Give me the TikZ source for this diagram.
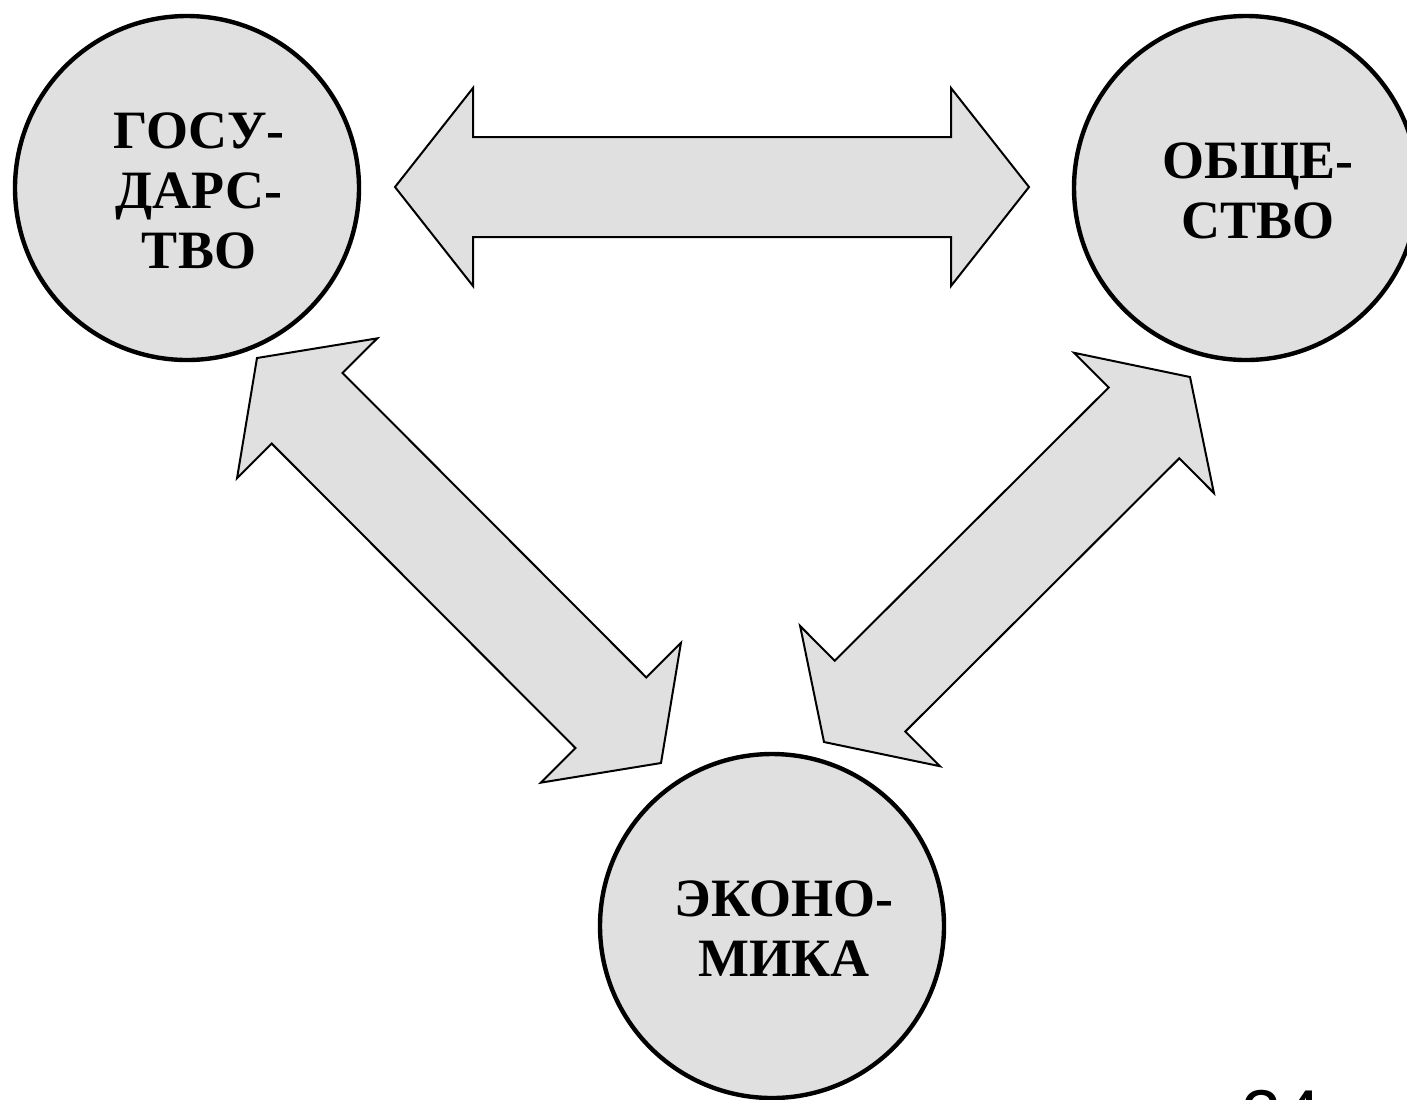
\documentclass[tikz,border=0pt]{standalone}
\usepackage{fontspec}
\setmainfont{Liberation Serif}
\newfontfamily\numfont{Liberation Sans}
\usepackage{tikz}
\usetikzlibrary{calc}

\definecolor{shade}{HTML}{E0E0E0}

\tikzset{
  unit/.style={circle, draw, fill=shade, line width=2.2pt, minimum size=172pt, inner sep=0pt},
  word/.style={align=center, font=\fontsize{27}{30}\selectfont\bfseries, xshift=6pt, yshift=-1.5pt},
  block/.style={draw, fill=shade, line width=1pt, line join=miter},
}

% double block arrow between two named tips, optional head length
\newcommand{\blockarrow}[3][39pt]{%
  \coordinate (#2-h) at ($(#2)!#1!(#3)$);
  \coordinate (#3-h) at ($(#3)!#1!(#2)$);
  \path[block] (#2)
    -- ($(#2-h)!49.5pt!90:(#3)$) -- ($(#2-h)!25pt!90:(#3)$)
    -- ($(#3-h)!25pt!90:(#3)$) -- ($(#3-h)!49.5pt!90:(#3)$)
    -- (#3)
    -- ($(#3-h)!49.5pt!-90:(#3)$) -- ($(#3-h)!25pt!-90:(#3)$)
    -- ($(#2-h)!25pt!-90:(#3)$) -- ($(#2-h)!49.5pt!-90:(#3)$)
    -- cycle;}

\begin{document}
\begin{tikzpicture}[x=0.5pt, y=-0.5pt]
        \useasboundingbox (0,0) rectangle (1407,1099);

        \node[unit] at (187,188) (gos) {};
        \node[unit] at (1246,188) (obs) {};
        \node[unit] at (772,926) (eko) {};

        \node[word] at (gos) (gos-t) {ГОСУ-\\ДАРС-\\ТВО};
        \node[word] at (obs) (obs-t) {ОБЩЕ-\\СТВО};
        \node[word] at (eko) (eko-t) {ЭКОНО-\\МИКА};

        % arrow tips
        \coordinate (h-w) at (395,187);
        \coordinate (h-e) at (1029,187);
        \coordinate (l-n) at (257,358);
        \coordinate (l-s) at (661,763);
        \coordinate (r-n) at (1190,377);
        \coordinate (r-s) at (824,742);

        \blockarrow{h-w}{h-e}
        \blockarrow[35.5pt]{l-n}{l-s}
        \blockarrow[32.5pt]{r-n}{r-s}

        \node[anchor=north west, inner sep=0pt, font=\numfont\fontsize{36}{40}\selectfont] at (1241,1090) (num) {24};
    \end{tikzpicture}
\end{document}
